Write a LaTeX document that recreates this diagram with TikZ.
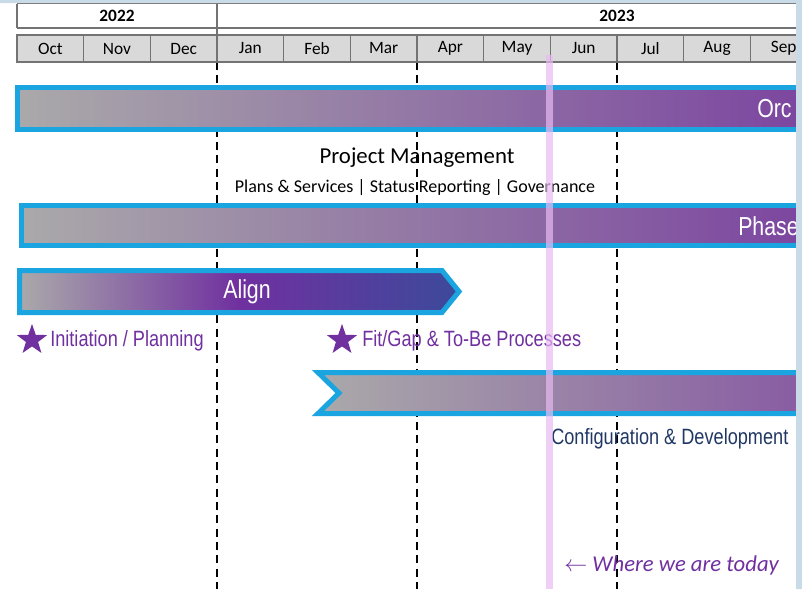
\documentclass[tikz,border=0pt]{standalone}
\usepackage{fontspec}
\setmainfont{Carlito}
\newfontfamily\narrowfont{Liberation Sans}[FakeStretch=0.82]
\usetikzlibrary{shapes.geometric}
\definecolor{barcyan}{RGB}{27,165,224}
\definecolor{bargray}{RGB}{170,169,170}
\definecolor{barpurple}{RGB}{124,70,160}
\definecolor{buildpurple}{RGB}{136,92,163}
\definecolor{alignpurple}{RGB}{112,48,160}
\definecolor{alignblue}{RGB}{60,74,155}
\definecolor{starpurple}{RGB}{112,48,160}
\definecolor{cfgblue}{RGB}{32,56,100}
\definecolor{todaypink}{RGB}{232,186,242}
\definecolor{framebg}{RGB}{201,219,230}
\definecolor{cellgray}{RGB}{217,217,217}
\definecolor{gridgray}{RGB}{115,115,115}
\pgfdeclarehorizontalshading{alignshade}{100bp}{color(0bp)=(bargray); color(25bp)=(bargray); color(50bp)=(alignpurple); color(75bp)=(alignblue); color(100bp)=(alignblue)}

\begin{document}
\begin{tikzpicture}[x=0.75pt,y=0.75pt,yscale=-1,xscale=1,
    gridline/.style={draw=gridgray, line width=1.1pt},
    monthcell/.style={gridline, fill=cellgray},
    yearlabel/.style={font=\fontsize{13}{15}\selectfont\bfseries},
    monthlabel/.style={font=\fontsize{13}{15}\selectfont},
    phasebar/.style={draw=barcyan, line width=3.75pt, left color=bargray, right color=barpurple},
    barlabel/.style={text=white, inner sep=0pt, font=\narrowfont\fontsize{19.5}{22}\selectfont},
    milestone/.style={text=starpurple, inner sep=0pt, font=\narrowfont\fontsize{16.6}{19}\selectfont},
    starmark/.style={star, star points=5, star point ratio=2.5, fill=starpurple, inner sep=0pt, minimum size=24pt},
    monthline/.style={black, line width=1.5pt, dash pattern=on 6pt off 4pt}]
    \useasboundingbox (0,0) rectangle (802,589);

    \begin{scope}
    \clip (0,0) rectangle (796,589);
    %Month dividers
    \foreach \x in {217,417,617}
        \draw [monthline] (\x,62) -- (\x,589) ;

    %Year row
    \draw [gridline] (17,3.5) -- (820,3.5) (17,28) -- (820,28) (17,3.5) -- (17,28) (217,3.5) -- (217,35) ;
    \node [yearlabel] (y2022) at (117,16) {2022};
    \node [yearlabel] (y2023) at (617,16) {2023};

    %Month row
    \foreach \m [count=\i from 0] in {Oct,Nov,Dec,Jan,Feb,Mar,Apr,May,Jun,Jul,Aug,Sep}
        \draw [monthcell] ({17+\i*66.67},35) rectangle ++(66.67,27) node [monthlabel, midway] (m\i) {\m};

    %Bar: Orchestrate
    \draw [phasebar] (17.5,87.5) rectangle (805,129.5) ;
    \node [barlabel, anchor=west] (orc) at (757,109) {Orc};

    % Text Node
    \node [font=\fontsize{17.1}{20}\selectfont] (pm) at (417,158) {Project Management};
    \node [font=\fontsize{13.5}{16}\selectfont] (pmsub) at (415,188) {Plans \& Services | Status Reporting | Governance};

    %Bar: Phase
    \draw [phasebar] (21.5,205.5) rectangle (805,245.5) ;
    \node [barlabel, anchor=west] (phase) at (738,226) {Phase};

    %Arrow: Align
    \draw [draw=barcyan, line width=3.75pt, shading=alignshade] (19.5,270.5) -- (442,270.5) -- (459,291.5) -- (442,312.5) -- (19.5,312.5) -- cycle ;
    \node [barlabel] (align) at (247,292) {Align};

    %Milestones
    \node [starmark] (star1) at (32,340) {};
    \node [milestone, anchor=west] (init) at (50,341) {Initiation / Planning};
    \node [starmark] (star2) at (342,340) {};
    \node [milestone, anchor=west] (fitgap) at (362,341) {Fit/Gap \& To-Be Processes};

    %Chevron: build
    \draw [draw=barcyan, line width=3.75pt, left color=bargray, right color=buildpurple] (318,372.5) -- (805,372.5) -- (805,413.5) -- (318,413.5) -- (339,393) -- cycle ;
    \node [milestone, text=cfgblue, anchor=west] (config) at (551,439) {Configuration \& Development};

    %Today marker
    \fill [todaypink, opacity=0.7] (546,55) rectangle (553,589) ;
    \node [text=starpurple, anchor=west, inner sep=0pt, font=\fontsize{17}{20}\selectfont\itshape] (today) at (564,565) {$\leftarrow$ Where we are today};
    \end{scope}

    %Frame
    \fill [framebg] (0,0) rectangle (802,3) (796,0) rectangle (802,589) ;
\end{tikzpicture}
\end{document}
